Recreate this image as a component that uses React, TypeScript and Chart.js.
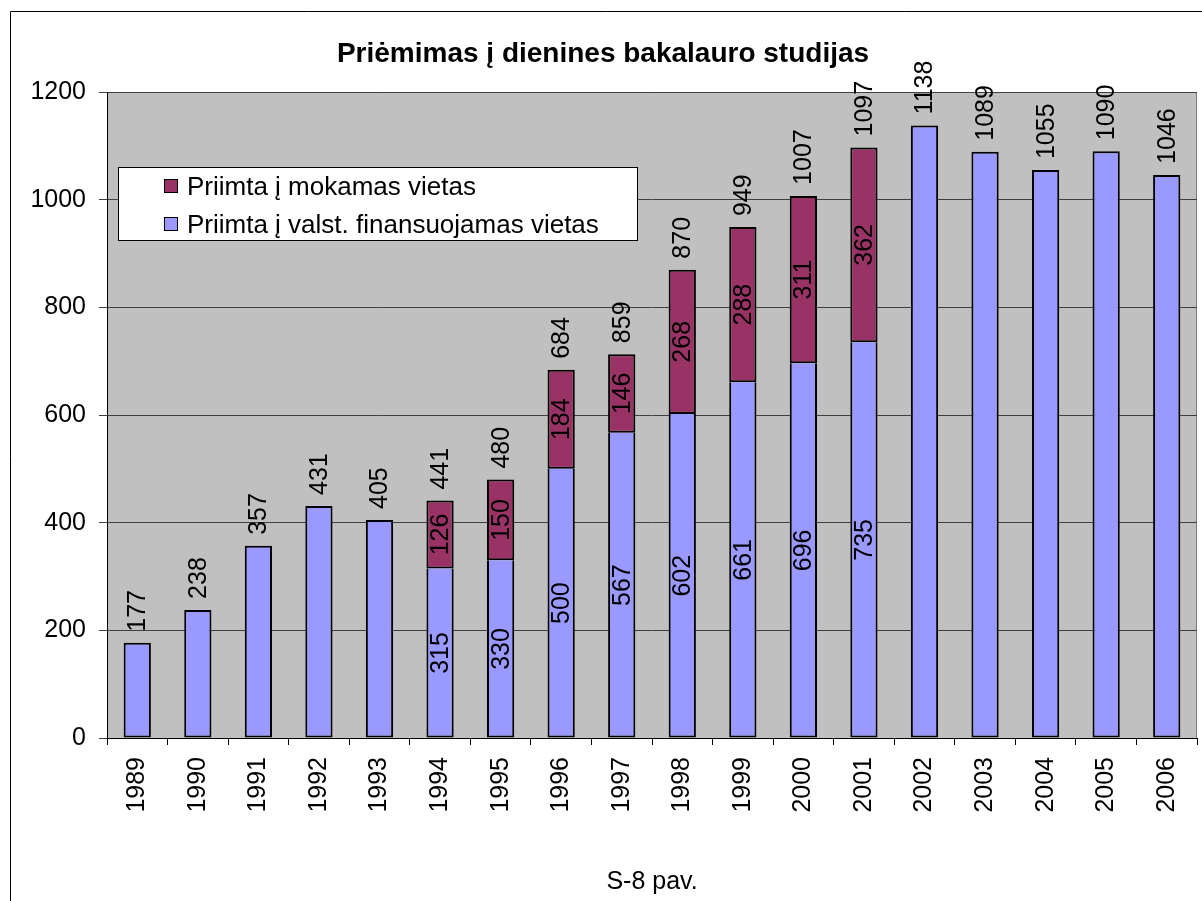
import React, { useEffect, useRef } from "react";
import { Chart, registerables } from "chart.js";

Chart.register(...registerables);

const years = ["1989","1990","1991","1992","1993","1994","1995","1996","1997","1998","1999","2000","2001","2002","2003","2004","2005","2006"];
const stateFunded = [177,238,357,431,405,315,330,500,567,602,661,696,735,1138,1089,1055,1090,1046];
const paid = [null,null,null,null,null,126,150,184,146,268,288,311,362,null,null,null,null,null];
const stateLabels = ["","","","","","315","330","500","567","602","661","696","735","","","","",""];
const paidLabels = ["","","","","","126","150","184","146","268","288","311","362","","","","",""];
const totalLabels = ["177","238","357","431","405","441","480","684","859","870","949","1007","1097","1138","1089","1055","1090","1046"];
const yTicks = [0, 200, 400, 600, 800, 1000, 1200];

const titleText = "Priėmimas į dienines bakalauro studijas";
const captionText = "S-8 pav.";
const legendPaid = "Priimta į mokamas vietas";
const legendState = "Priimta į valst. finansuojamas vietas";

const FONT = "'Liberation Sans', Arial, sans-serif";
const BLUE = "#9999FF";
const MAROON = "#993366";
const FS = 25;

export default function App() {
  const ref = useRef<HTMLCanvasElement | null>(null);

  useEffect(() => {
    const canvas = ref.current;
    if (!canvas) return;

    const decor = {
      id: "decor",
      beforeDraw(chart: any) {
        const { ctx, chartArea } = chart;
        ctx.save();
        ctx.fillStyle = "#ffffff";
        ctx.fillRect(0, 0, chart.width, chart.height);
        ctx.strokeStyle = "#000000";
        ctx.lineWidth = 1;
        ctx.beginPath();
        ctx.moveTo(10.5, 901);
        ctx.lineTo(10.5, 11.5);
        ctx.lineTo(1202, 11.5);
        ctx.stroke();
        ctx.fillStyle = "#C0C0C0";
        ctx.fillRect(chartArea.left, chartArea.top, chartArea.right - chartArea.left, chartArea.bottom - chartArea.top);
        ctx.strokeStyle = "#808080";
        ctx.beginPath();
        ctx.moveTo(chartArea.left, chartArea.top + 0.5);
        ctx.lineTo(chartArea.right - 0.5, chartArea.top + 0.5);
        ctx.lineTo(chartArea.right - 0.5, chartArea.bottom);
        ctx.stroke();
        ctx.restore();
      },
      afterDraw(chart: any) {
        const { ctx, chartArea } = chart;
        ctx.save();
        ctx.fillStyle = "#000000";
        ctx.textBaseline = "alphabetic";
        ctx.textAlign = "center";
        ctx.font = `bold 28px ${FONT}`;
        ctx.fillText(titleText, 603, 62);
        ctx.font = `${FS}px ${FONT}`;
        ctx.fillText(captionText, (chartArea.left + chartArea.right) / 2, 889);

        ctx.fillStyle = "#ffffff";
        ctx.fillRect(118.5, 167.5, 519, 73);
        ctx.strokeStyle = "#000000";
        ctx.lineWidth = 1;
        ctx.strokeRect(118.5, 167.5, 519, 73);
        const items = [
          { color: MAROON, text: legendPaid, cy: 186 },
          { color: BLUE, text: legendState, cy: 224 },
        ];
        ctx.textAlign = "left";
        items.forEach((it) => {
          ctx.fillStyle = it.color;
          ctx.fillRect(164.5, it.cy - 6.5, 13, 13);
          ctx.strokeStyle = "#000000";
          ctx.strokeRect(164.5, it.cy - 6.5, 13, 13);
          ctx.fillStyle = "#000000";
          ctx.font = `26px ${FONT}`;
          ctx.fillText(it.text, 187, it.cy + 9);
        });
        ctx.restore();
      },
      afterDatasetsDraw(chart: any) {
        const { ctx } = chart;
        const m0 = chart.getDatasetMeta(0);
        const m1 = chart.getDatasetMeta(1);
        ctx.save();
        ctx.fillStyle = "#000000";
        ctx.font = `${FS}px ${FONT}`;
        const drawRot = (txt: string, x: number, y: number, align: CanvasTextAlign) => {
          ctx.save();
          ctx.translate(x, y);
          ctx.rotate(-Math.PI / 2);
          ctx.textAlign = align;
          ctx.textBaseline = "middle";
          ctx.fillText(txt, 0, 1);
          ctx.restore();
        };
        years.forEach((_, i) => {
          const b = m0.data[i];
          const r = m1.data[i];
          if (stateLabels[i]) drawRot(stateLabels[i], b.x, (b.y + b.base) / 2, "center");
          let top = b.y;
          if (paid[i] != null && r) {
            top = Math.min(top, r.y);
            if (paidLabels[i]) drawRot(paidLabels[i], r.x, (r.y + r.base) / 2, "center");
          }
          drawRot(totalLabels[i], b.x, top - 11, "left");
        });
        ctx.restore();
      },
    };

    const chart = new Chart(canvas, {
      type: "bar",
      data: {
        labels: years,
        datasets: [
          {
            label: legendState,
            data: stateFunded,
            backgroundColor: BLUE,
            borderColor: "#000000",
            borderWidth: 2,
            borderSkipped: ((c: any) => (paid[c.dataIndex] != null ? "end" : false)) as any,
            barPercentage: 0.45,
            categoryPercentage: 1,
          },
          {
            label: legendPaid,
            data: paid as any,
            backgroundColor: MAROON,
            borderColor: "#000000",
            borderWidth: 2,
            borderSkipped: false,
            barPercentage: 0.45,
            categoryPercentage: 1,
          },
        ],
      },
      options: {
        animation: false,
        responsive: false,
        devicePixelRatio: 1,
        layout: { padding: { top: 92, right: 5, left: 0, bottom: 0 } },
        plugins: {
          legend: { display: false },
          title: { display: false },
          tooltip: { enabled: false },
        },
        scales: {
          x: {
            stacked: true,
            offset: true,
            grid: { offset: true, drawOnChartArea: false, color: "#000000", tickLength: 7 },
            border: { color: "#000000", width: 1 },
            ticks: {
              color: "#000000",
              font: { family: FONT, size: FS },
              maxRotation: 90,
              minRotation: 90,
              padding: 12,
              autoSkip: false,
            },
            afterFit: (s: any) => {
              s.height = 163;
              s.paddingLeft = 0;
              s.paddingRight = 0;
            },
          },
          y: {
            stacked: true,
            min: 0,
            max: 1200,
            afterBuildTicks: (s: any) => { s.ticks = yTicks.map((v) => ({ value: v })); },
            grid: { color: "#404040", tickLength: 8 },
            border: { color: "#000000", width: 1 },
            ticks: {
              color: "#000000",
              font: { family: FONT, size: FS },
              padding: 13,
              callback: (v: any) => String(v),
            },
            afterFit: (s: any) => { s.width = 107; },
          },
        },
      },
      plugins: [decor],
    });

    return () => chart.destroy();
  }, []);

  return (
    <div style={{ position: "fixed", left: 0, top: 0, width: 1202, height: 901, background: "#fff" }}>
      <canvas ref={ref} width={1202} height={901} style={{ width: 1202, height: 901, display: "block" }} />
    </div>
  );
}
